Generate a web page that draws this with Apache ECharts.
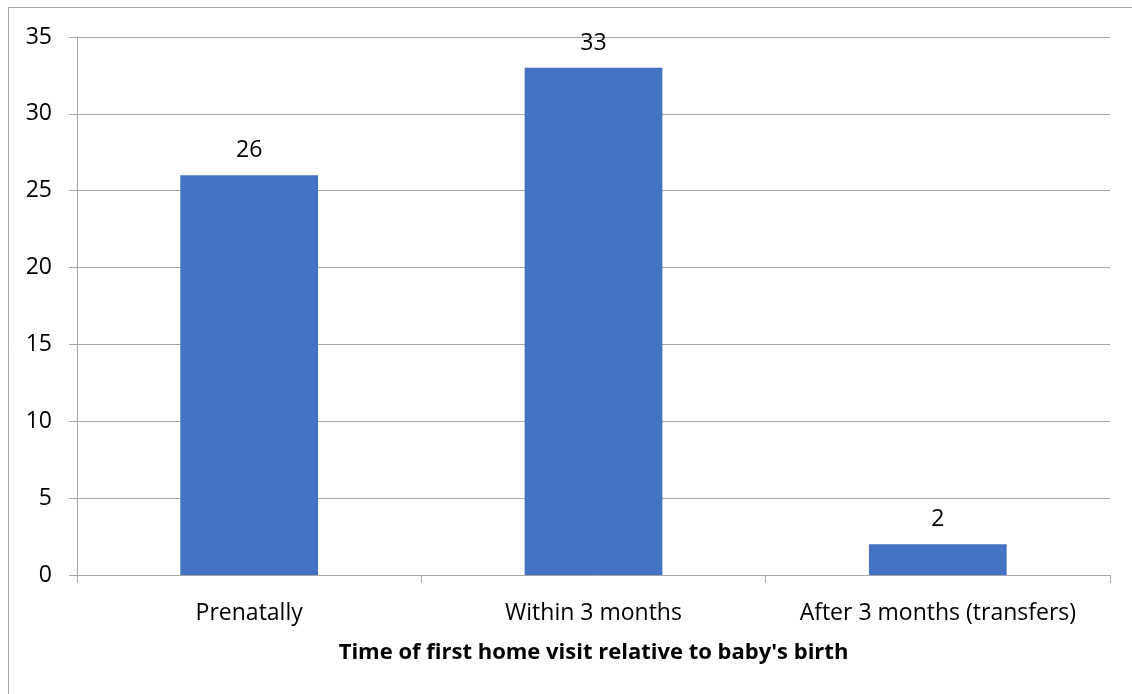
<!DOCTYPE html>
<html>
<head>
<meta charset="utf-8">
<style>
  html, body { margin: 0; padding: 0; background: #fff; }
  #chart { width: 1132px; height: 694px; }
</style>
<script src="https://cdn.jsdelivr.net/npm/echarts@6/dist/echarts.min.js"></script>
</head>
<body>
<div id="chart"></div>
<script>
// Timing of the first home visit
const categories = ['Prenatally', 'Within 3 months', 'After 3 months (transfers)'];
const visitCounts = [26, 33, 2];
const axisTitle = "Time of first home visit relative to baby's birth";

const FONT = 'Open Sans';
const chart = echarts.init(document.getElementById('chart'), null, { renderer: 'canvas' });

chart.setOption({
  animation: false,
  backgroundColor: '#ffffff',
  graphic: [{
    type: 'rect',
    shape: { x: 8.5, y: 7.5, width: 1200, height: 800 },
    style: { fill: 'none', stroke: '#a6a6a6', lineWidth: 1 },
    silent: true
  }],
  grid: { left: 77, right: 22, top: 37, bottom: 119, containLabel: false },
  xAxis: {
    type: 'category',
    data: categories,
    name: axisTitle,
    nameLocation: 'middle',
    nameGap: 67,
    nameTextStyle: { fontFamily: FONT, fontSize: 22, fontWeight: 'bold', color: '#000' },
    axisLine: { lineStyle: { color: '#a6a6a6', width: 1 } },
    axisTick: { show: true, interval: 0, length: 8, alignWithLabel: false, lineStyle: { color: '#a6a6a6' } },
    axisLabel: { interval: 0, hideOverlap: false, fontFamily: FONT, fontSize: 23, color: '#000', margin: 27 }
  },
  yAxis: {
    type: 'value',
    min: 0, max: 35, interval: 5,
    axisLine: { show: true, lineStyle: { color: '#a6a6a6', width: 1 } },
    axisTick: { show: true, length: 8, lineStyle: { color: '#a6a6a6' } },
    axisLabel: { fontFamily: FONT, fontSize: 23, color: '#000', margin: 25 },
    splitLine: { show: true, lineStyle: { color: '#a6a6a6', width: 1 } }
  },
  series: [{
    type: 'bar',
    data: visitCounts,
    barWidth: '40%',
    itemStyle: { color: '#4472C4' },
    label: {
      show: true,
      position: 'top',
      distance: 13,
      fontFamily: FONT, fontSize: 23, color: '#000'
    }
  }]
});
</script>
</body>
</html>
